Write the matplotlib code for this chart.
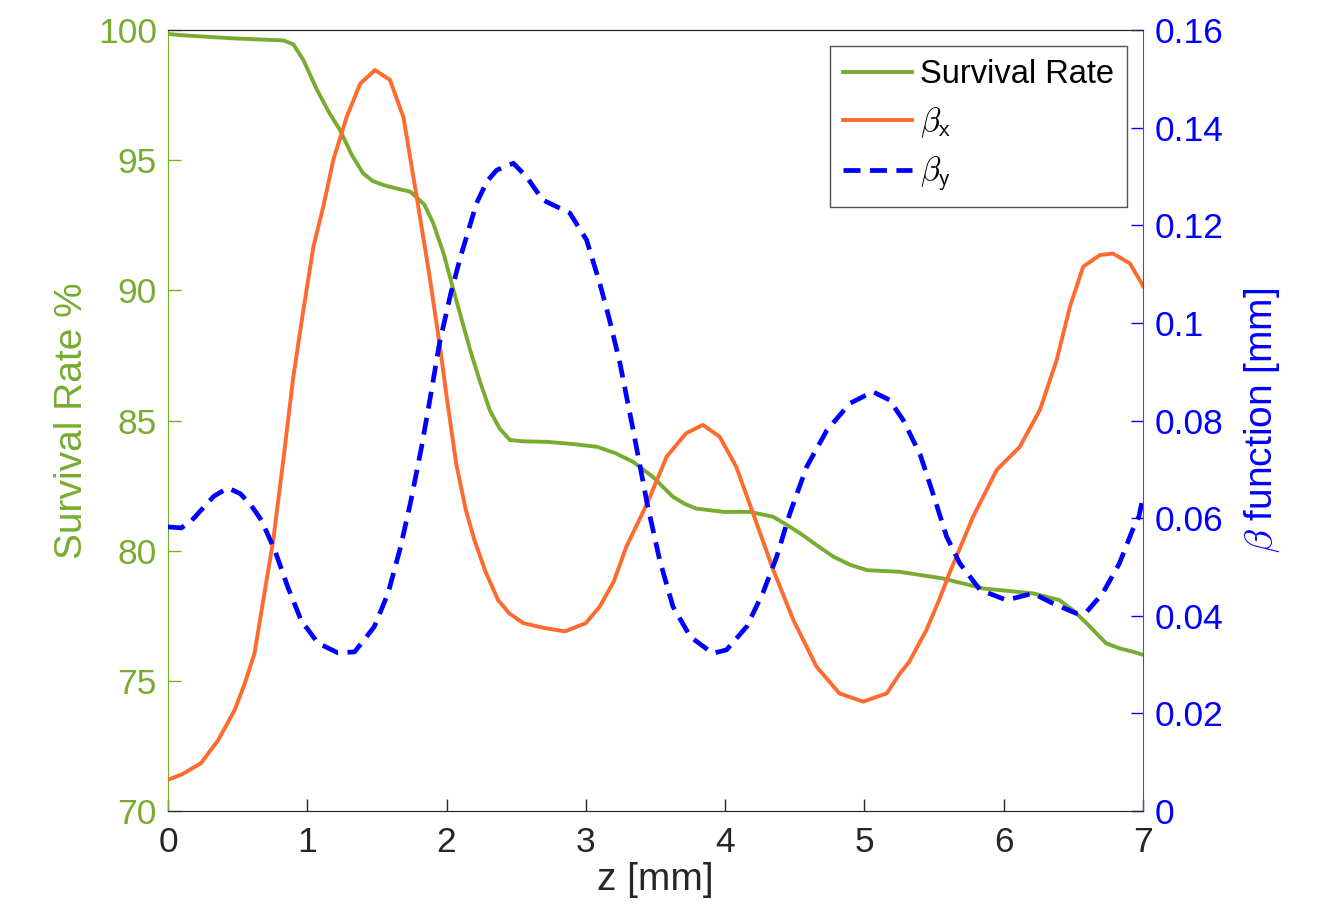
import matplotlib.pyplot as plt

plt.rcParams['font.family'] = ['Liberation Sans', 'DejaVu Sans']
plt.rcParams['mathtext.fontset'] = 'cm'

# survival rate (%), left axis
z_sr = [0, 0.1, 0.25, 0.47, 0.7, 0.83, 0.9, 0.972, 1.07, 1.16, 1.235, 1.32, 1.4, 1.47, 1.545,
        1.65, 1.74, 1.84, 1.905, 1.98, 2.05, 2.11, 2.17, 2.24, 2.31, 2.38, 2.455, 2.55, 2.72,
        2.9, 3.08, 3.21, 3.34, 3.48, 3.625, 3.71, 3.79, 3.99, 4.18, 4.345, 4.44, 4.54, 4.66,
        4.78, 4.9, 5.02, 5.25, 5.565, 5.85, 6.21, 6.4, 6.5, 6.595, 6.735, 6.83, 6.925, 7.0]
survival = [99.85, 99.8, 99.75, 99.68, 99.63, 99.6, 99.45, 98.85, 97.7, 96.8, 96.16, 95.2, 94.5, 94.2, 94.05,
            93.9, 93.79, 93.3, 92.57, 91.4, 90.0, 88.85, 87.7, 86.5, 85.4, 84.7, 84.25, 84.2, 84.18,
            84.1, 83.99, 83.75, 83.41, 82.84, 82.07, 81.8, 81.62, 81.49, 81.49, 81.3, 81.0, 80.66, 80.2,
            79.76, 79.45, 79.25, 79.19, 78.93, 78.55, 78.36, 78.1, 77.7, 77.21, 76.44, 76.25, 76.12, 76.0]

# beta_x (mm), right axis
z_bx = [0, 0.1, 0.237, 0.36, 0.479, 0.55, 0.622, 0.708, 0.756, 0.828, 0.9, 0.972, 1.044, 1.115,
        1.187, 1.283, 1.38, 1.486, 1.593, 1.69, 1.785, 1.87, 1.953, 2.0, 2.07, 2.14, 2.2, 2.28,
        2.37, 2.45, 2.55, 2.7, 2.85, 3.0, 3.1, 3.2, 3.29, 3.44, 3.58, 3.72, 3.84, 3.96, 4.08, 4.2,
        4.345, 4.49, 4.655, 4.82, 4.99, 5.16, 5.255, 5.32, 5.445, 5.54, 5.61, 5.78, 5.95, 6.115,
        6.26, 6.38, 6.475, 6.57, 6.69, 6.785, 6.905, 6.99, 7.0]
beta_x = [0.0064, 0.0075, 0.0098, 0.0145, 0.0207, 0.026, 0.0324, 0.0473, 0.0555, 0.0719, 0.089, 0.1026, 0.1156, 0.1238,
          0.1334, 0.1422, 0.149, 0.1518, 0.1498, 0.1422, 0.1259, 0.111, 0.0951, 0.085, 0.071, 0.0615, 0.0555, 0.049,
          0.0432, 0.0405, 0.0385, 0.0375, 0.0368, 0.0385, 0.0419, 0.047, 0.0541, 0.063, 0.0726, 0.0774, 0.0791, 0.0767, 0.0705, 0.061,
          0.0494, 0.0391, 0.0296, 0.0241, 0.0224, 0.0241, 0.0282, 0.0305, 0.0371, 0.0435, 0.0487, 0.0603, 0.0699, 0.0746,
          0.0822, 0.0924, 0.1033, 0.1115, 0.1139, 0.1142, 0.1122, 0.1081, 0.1075]

# beta_y (mm), right axis
z_by = [0, 0.096, 0.17, 0.24, 0.33, 0.43, 0.52, 0.6, 0.67, 0.766, 0.86, 0.957, 1.077, 1.22, 1.34,
        1.48, 1.58, 1.67, 1.745, 1.82, 1.88, 1.95, 2.03, 2.1, 2.215, 2.29, 2.36, 2.48, 2.575, 2.69,
        2.885, 3.005, 3.1, 3.17, 3.245, 3.34, 3.44, 3.53, 3.625, 3.75, 3.91, 4.01, 4.155, 4.27, 4.37,
        4.465, 4.585, 4.73, 4.895, 5.06, 5.18, 5.28, 5.4, 5.49, 5.59, 5.685, 5.83, 6.02, 6.21, 6.355,
        6.52, 6.595, 6.71, 6.83, 6.925, 6.97, 7.0]
beta_y = [0.0582, 0.058, 0.0595, 0.0617, 0.0645, 0.0662, 0.065, 0.0625, 0.0596, 0.0535, 0.0459, 0.039, 0.0344, 0.0324, 0.0326,
          0.0377, 0.0446, 0.0541, 0.0637, 0.0745, 0.0842, 0.0959, 0.106, 0.1135, 0.1245, 0.129, 0.1313, 0.1327, 0.1299, 0.1252,
          0.1225, 0.117, 0.1081, 0.1006, 0.0917, 0.078, 0.063, 0.0514, 0.0419, 0.0357, 0.0323, 0.033, 0.0378, 0.0446, 0.0521,
          0.061, 0.0705, 0.078, 0.0835, 0.0859, 0.0842, 0.080, 0.073, 0.0652, 0.0562, 0.0507, 0.0453, 0.0432, 0.0446, 0.0425,
          0.0405, 0.0408, 0.0446, 0.0507, 0.0576, 0.0603, 0.0643]

x_ticks = [0, 1, 2, 3, 4, 5, 6, 7]
left_ticks = [70, 75, 80, 85, 90, 95, 100]
right_ticks = [0, 0.02, 0.04, 0.06, 0.08, 0.1, 0.12, 0.14, 0.16]
right_labels = ['0', '0.02', '0.04', '0.06', '0.08', '0.1', '0.12', '0.14', '0.16']

green = '#77AC30'
orange = '#FF6A2E'
blue = '#0000FF'
dark = '#262626'

fig = plt.figure(figsize=(13.33, 9.24), dpi=100)
ax = fig.add_axes([0.126, 0.1223, 0.7315, 0.8452])
ax2 = ax.twinx()

l1, = ax.plot(z_sr, survival, color=green, lw=2.8, label='Survival Rate')
l2, = ax2.plot(z_bx, beta_x, color=orange, lw=2.8, label=r'$\beta_{\mathsf{x}}$')
l3, = ax2.plot(z_by, beta_y, color=blue, lw=3.4, ls=(0, (3.6, 2.0)), label=r'$\beta_{\mathsf{y}}$')

ax.set_xlim(0, 7)
ax.set_ylim(70, 100)
ax2.set_ylim(0, 0.16)
ax.set_xticks(x_ticks)
ax.set_yticks(left_ticks)
ax2.set_yticks(right_ticks)
ax2.set_yticklabels(right_labels)

for a in (ax, ax2):
    a.tick_params(direction='in', length=9, width=1, labelsize=25.5)
ax.tick_params(axis='y', colors=green, pad=8)
ax.tick_params(axis='x', colors=dark, pad=11)
ax2.tick_params(axis='y', colors=blue, pad=8)

ax.spines['left'].set_color(green)
ax2.spines['left'].set_visible(False)
ax2.spines['right'].set_color('#4646e6')
ax.spines['right'].set_visible(False)
for a in (ax, ax2):
    a.spines['top'].set_color(dark)
    a.spines['bottom'].set_color(dark)

ax.set_xlabel('z [mm]', fontsize=28, color=dark, labelpad=2)
ax.set_ylabel('Survival Rate %', fontsize=28, color=green, labelpad=6)
ax2.set_ylabel(r'$\beta$ function [mm]', fontsize=28, color=blue, labelpad=14)

leg = ax2.legend(handles=[l1, l2, l3], loc='upper right', fontsize=23.5, frameon=True,
                 fancybox=False, edgecolor=dark, handlelength=2.1, handletextpad=0.25,
                 labelspacing=0.45, borderpad=0.4, borderaxespad=0.5)
leg.get_frame().set_linewidth(1)

fig.savefig('out.png', dpi=100)
